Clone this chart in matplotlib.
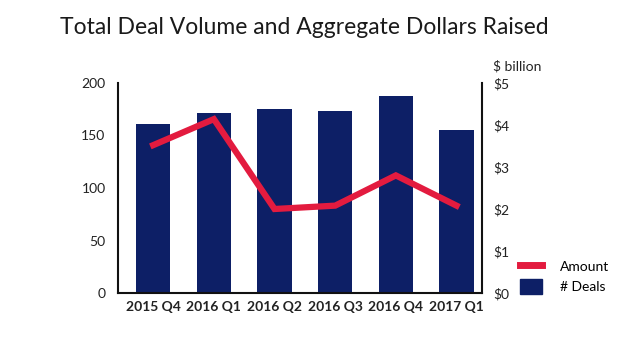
import matplotlib
matplotlib.use("Agg")
import matplotlib.pyplot as plt
from matplotlib.patches import Patch
from matplotlib.lines import Line2D

plt.rcParams['font.family'] = ['Lato', 'DejaVu Sans']

categories = ["2015 Q4", "2016 Q1", "2016 Q2", "2016 Q3", "2016 Q4", "2017 Q1"]
deals = [161, 171, 175, 173, 188, 155]
amount = [3.52, 4.14, 2.0, 2.08, 2.8, 2.08]

navy = "#0D1F66"
red = "#E31B3F"

fig = plt.figure(figsize=(6.3, 3.45), dpi=100)
ax = fig.add_axes([118/630, 1-293/345, (482-118)/630, 210/345])
x = list(range(len(categories)))
ax.bar(x, deals, width=0.57, color=navy, zorder=2)
ax.set_ylim(0, 200)
ax.set_xlim(-0.58, 5.42)
ax.set_yticks([0, 50, 100, 150, 200])
ax.set_xticks(x)
ax.set_xticklabels(categories, fontweight='bold', fontsize=9.5)
ax.tick_params(axis='both', length=0, labelsize=10, colors='#222222')
ax.tick_params(axis='y', pad=9)
ax.tick_params(axis='x', pad=6)
for s in ['top', 'right']:
    ax.spines[s].set_visible(False)
for s in ['left', 'bottom']:
    ax.spines[s].set_linewidth(1.5)
    ax.spines[s].set_color('#111111')

ax2 = ax.twinx()
ax2.plot(x, amount, color=red, linewidth=4.5, solid_joinstyle='miter', zorder=3)
ax2.set_ylim(0, 5)
ax2.set_yticks([0, 1, 2, 3, 4, 5])
ax2.set_yticklabels(["$0", "$1", "$2", "$3", "$4", "$5"])
ax2.tick_params(axis='y', length=0, labelsize=10, colors='#222222', pad=8)
for s in ['top', 'left', 'bottom']:
    ax2.spines[s].set_visible(False)
ax2.spines['right'].set_linewidth(1.5)
ax2.spines['right'].set_color('#111111')
ax2.text(1.03, 1.05, "$ billion", transform=ax2.transAxes, fontsize=10, color='#222222', ha='left', va='bottom')

fig.text(60/630, 1-28/345, "Total Deal Volume and Aggregate Dollars Raised", fontsize=16.5, color='#1a1a1a', va='center', ha='left')

handles = [Line2D([0], [0], color=red, linewidth=5), Patch(color=navy)]
fig.legend(handles, ["Amount", "# Deals"], loc='lower left', bbox_to_anchor=(507/630, 1-306/345),
           frameon=False, fontsize=10, handlelength=1.6, handleheight=1.2, labelspacing=0.45, handletextpad=1.3)

fig.savefig("out.png", dpi=100, facecolor='white')
